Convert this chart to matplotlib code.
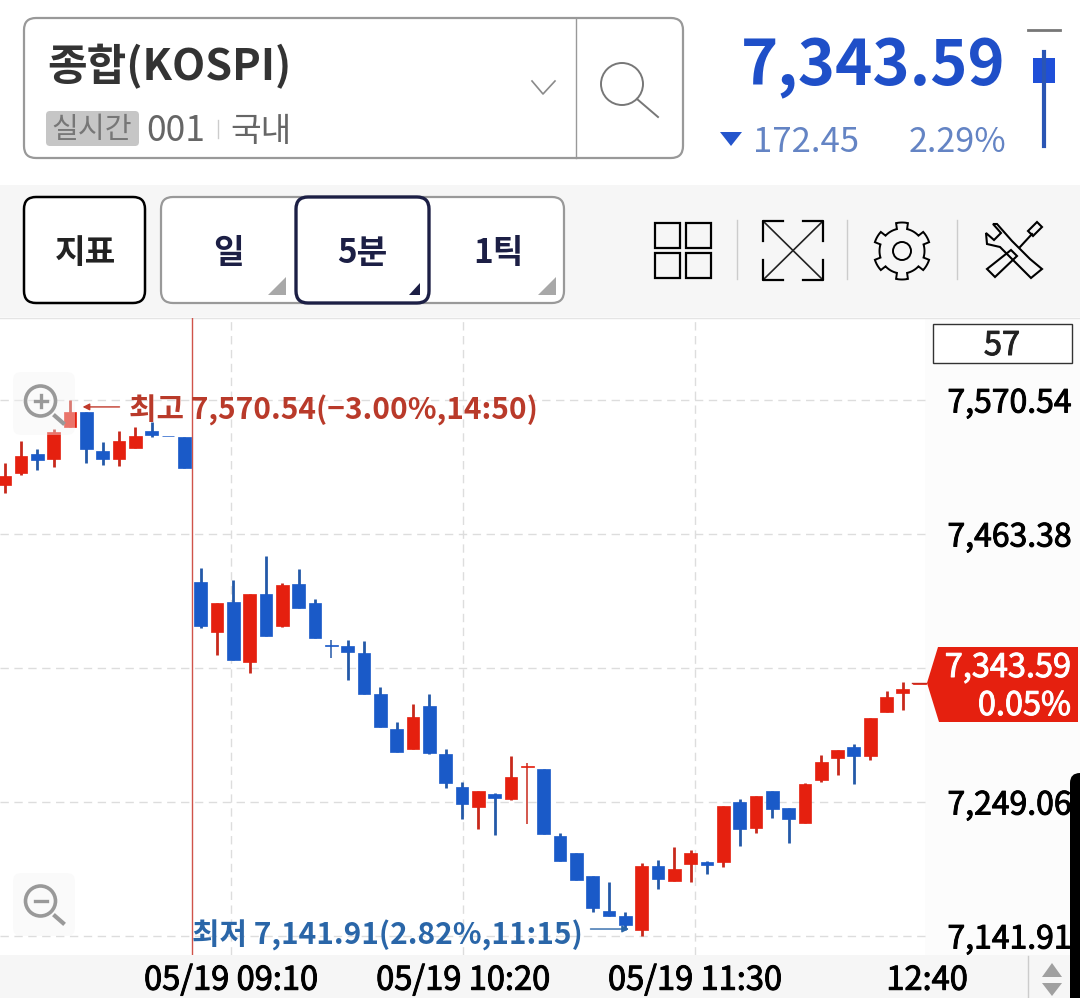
import numpy as np
import matplotlib
matplotlib.use('Agg')
import matplotlib.pyplot as plt
import matplotlib.patheffects as pe
from matplotlib.patches import Rectangle, FancyBboxPatch, Polygon, Circle

plt.rcParams['font.family'] = ['Noto Sans CJK KR', 'DejaVu Sans']

# 5 minute candles
opens = [7502.6, 7511.9, 7527.3, 7523.3, 7548.7, 7561.1, 7529.7, 7523.1, 7531.9, 7545.7, 7541.7, 7541.1,
         7425.2, 7385.2, 7408.7, 7361.0, 7415.1, 7389.8, 7423.4, 7407.9, 7374.1, 7373.8, 7367.9, 7335.4,
         7307.2, 7291.4, 7325.6, 7287.6, 7261.2, 7245.0, 7255.4, 7251.2, 7277.1, 7275.4, 7221.8, 7208.2,
         7190.1, 7161.9, 7157.6, 7146.4, 7197.8, 7185.8, 7199.7, 7201.3, 7201.3, 7249.0, 7228.5, 7258.1,
         7244.5, 7232.2, 7266.6, 7284.0, 7292.8, 7286.0, 7321.2, 7336.4, 7343.5]
highs = [7519.9, 7537.7, 7531.1, 7547.1, 7570.5, 7561.1, 7536.7, 7545.7, 7549.1, 7553.1, 7541.7, 7541.1,
         7435.9, 7407.9, 7426.3, 7415.4, 7446.0, 7423.9, 7435.4, 7411.4, 7378.6, 7378.6, 7377.5, 7340.7,
         7313.0, 7327.6, 7335.1, 7291.4, 7264.8, 7257.8, 7256.0, 7285.6, 7280.0, 7275.4, 7224.0, 7208.2,
         7190.1, 7185.0, 7160.8, 7200.0, 7202.6, 7213.3, 7210.4, 7201.8, 7245.8, 7251.7, 7253.8, 7258.1,
         7244.5, 7264.0, 7286.4, 7290.6, 7295.2, 7316.4, 7337.8, 7344.7, 7343.6]
lows = [7495.9, 7510.3, 7514.5, 7517.2, 7548.7, 7520.4, 7518.5, 7518.0, 7531.9, 7541.1, 7541.6, 7515.9,
        7387.9, 7366.3, 7362.6, 7352.4, 7381.8, 7388.7, 7404.4, 7379.9, 7364.4, 7346.6, 7335.4, 7309.2,
        7289.2, 7291.4, 7287.2, 7260.5, 7235.7, 7227.7, 7222.6, 7250.6, 7231.4, 7223.7, 7201.8, 7186.4,
        7161.3, 7157.6, 7146.7, 7141.9, 7179.7, 7185.8, 7184.8, 7191.2, 7197.3, 7214.1, 7224.0, 7236.5,
        7216.5, 7232.2, 7265.3, 7270.6, 7263.7, 7282.4, 7321.2, 7322.6, 7343.5]
closes = [7509.8, 7525.5, 7522.5, 7544.7, 7561.1, 7531.3, 7523.3, 7537.7, 7541.7, 7542.7, 7541.6, 7515.9,
          7390.0, 7407.9, 7362.6, 7415.4, 7381.8, 7422.8, 7404.4, 7379.9, 7374.0, 7369.0, 7335.4, 7309.2,
          7289.2, 7316.8, 7288.0, 7264.5, 7247.4, 7257.8, 7252.2, 7268.8, 7277.2, 7223.7, 7201.8, 7186.4,
          7164.5, 7157.6, 7150.4, 7197.8, 7187.4, 7195.4, 7208.0, 7198.6, 7245.8, 7227.2, 7253.8, 7243.4,
          7235.4, 7263.4, 7281.2, 7290.6, 7286.0, 7316.4, 7332.7, 7339.2, 7343.6]

price_ticks = [7141.91, 7249.06, 7356.22, 7463.38, 7570.54]
price_labels = ['7,141.91', '7,249.06', '', '7,463.38', '7,570.54']
time_ticks = [13.86, 28.07, 42.27, 56.48]
time_labels = ['05/19 09:10', '05/19 10:20', '05/19 11:30', '12:40']
day_break = 11.47

RED = '#e5200f'
BLUE = '#1a5ac8'
RED_WICK = '#c8291c'
BLUE_WICK = '#2459a8'
NAVY = '#1c1f45'
GREY = '#999999'

fig = plt.figure(figsize=(10.8, 9.98), dpi=100, facecolor='white')


def pixel_axes(z):
    a = fig.add_axes([0, 0, 1, 1], zorder=z)
    a.set_xlim(0, 1080)
    a.set_ylim(998, 0)
    a.axis('off')
    a.patch.set_alpha(0)
    return a


def rbox(a, x0, y0, x1, y1, r=8, **kw):
    a.add_patch(FancyBboxPatch((x0 + r, y0 + r), x1 - x0 - 2 * r, y1 - y0 - 2 * r,
                               boxstyle='round,pad=%d,rounding_size=%d' % (r, r), **kw))


def medium(t, color):
    # the font has no medium weight here, thicken the regular one a little
    t.set_path_effects([pe.withStroke(linewidth=0.7, foreground=color)])


# background bands
bg = pixel_axes(0)
bg.add_patch(Rectangle((0, 185), 1080, 132, fc='#f6f6f6', ec='none'))
bg.add_patch(Rectangle((925, 318), 155, 637, fc='#fcfcfc', ec='none'))
bg.add_patch(Rectangle((0, 955), 1080, 43, fc='#f6f6f6', ec='none'))
bg.plot([0, 1080], [317.5, 317.5], color='#e4e4e4', lw=1)

# search box
rbox(bg, 24, 18, 683, 158, r=12, fc='white', ec=GREY, lw=1.6)
bg.plot([576, 576], [18, 158], color=GREY, lw=1)
bg.plot([532, 543, 555], [81, 94, 81], color='#8a8a8a', lw=1.2)
bg.add_patch(Circle((622, 84), 21, fc='none', ec='#777777', lw=1.4))
bg.plot([637, 658], [99, 117], color='#777777', lw=1.4)
bg.text(47, 67, '종합(KOSPI)', fontsize=31, fontweight='bold', color='#333333', va='center')
rbox(bg, 46, 111, 139, 146, r=4, fc='#c6c6c6', ec='none')
bg.text(92, 130, '실시간', fontsize=21, color='#777777', va='center', ha='center')
bg.text(146, 131, '001', fontsize=25.5, color='#666666', va='center')
bg.plot([218, 218], [120, 138], color='#cccccc', lw=1)
bg.text(230, 131, '국내', fontsize=24, color='#666666', va='center')

# current price block
bg.text(1006, 67, '7,343.59', fontsize=45.5, fontweight='bold', color='#1f4fc8', va='center', ha='right')
bg.add_patch(Polygon([(720, 132), (742, 132), (731, 146)], fc='#2455cc', ec='none'))
bg.text(859, 142, '172.45', fontsize=25, color='#6484c4', va='center', ha='right')
bg.text(1006, 142, '2.29%', fontsize=24.5, color='#6484c4', va='center', ha='right')
bg.plot([1028, 1060], [30, 30], color='#777777', lw=2)
bg.plot([1044, 1044], [52, 146], color='#2a55b4', lw=3)
bg.add_patch(Rectangle((1033, 58), 22, 25, fc='#1f4fd8', ec='none'))

# toolbar buttons
rbox(bg, 24, 197, 145, 303, r=12, fc='white', ec='black', lw=1.8)
bg.text(85, 253, '지표', fontsize=24, fontweight='bold', color='#222222', ha='center', va='center')
rbox(bg, 161, 197, 564, 303, r=12, fc='white', ec=GREY, lw=1.6)
rbox(bg, 296, 197, 429, 303, r=12, fc='white', ec=NAVY, lw=2.4)
for x, s in zip([228, 362, 498], ['일', '5분', '1틱']):
    bg.text(x, 253, s, fontsize=24, fontweight='bold', color=NAVY, ha='center', va='center')
bg.add_patch(Polygon([(268, 295), (286, 277), (286, 295)], fc='#a8a8a8', ec='none'))
bg.add_patch(Polygon([(538, 295), (556, 277), (556, 295)], fc='#a8a8a8', ec='none'))
bg.add_patch(Polygon([(409, 295), (420, 283), (420, 295)], fc=NAVY, ec='none'))

# toolbar icons
for x in (655, 686):
    for y in (223, 253):
        bg.add_patch(Rectangle((x, y), 25, 25, fc='none', ec='black', lw=1.6))
for x in (737, 847, 957):
    bg.plot([x, x], [220, 279], color='#cccccc', lw=1)
bg.plot([763, 823], [221, 280], color='#222222', lw=1.2)
bg.plot([763, 823], [280, 221], color='#222222', lw=1.2)
bg.plot([783, 763, 763], [221, 221, 241], color='black', lw=1.6)
bg.plot([803, 823, 823], [221, 221, 241], color='black', lw=1.6)
bg.plot([783, 763, 763], [280, 280, 260], color='black', lw=1.6)
bg.plot([803, 823, 823], [280, 280, 260], color='black', lw=1.6)

# gear
ang = np.radians(np.arange(0, 360, 1))
tooth = np.abs(((np.degrees(ang) - 90) % 60) - 30)
rad = np.where(tooth > 17, 28.5, 22.5)
bg.add_patch(Polygon(np.c_[902 + rad * np.cos(ang), 251 + rad * np.sin(ang)], fc='none', ec='black', lw=1.4))
bg.add_patch(Circle((902, 251), 9, fc='none', ec='black', lw=1.4))

# wrench and screwdriver
wrench = [(997, 224), (1012, 241), (1030, 259), (1042, 269), (1031, 278), (1000, 247), (987, 244),
          (986, 233), (994, 240), (1001, 233), (993, 224)]
bg.add_patch(Polygon(wrench, fc='none', ec='black', lw=1.5))
bg.add_patch(Polygon([(987, 269), (1011, 250), (1017, 256), (995, 277)], fc='none', ec='black', lw=1.5))
bg.plot([1020, 1032], [247, 234], color='black', lw=1.5)
bg.add_patch(Polygon([(1028, 231), (1037, 222), (1042, 227), (1033, 236)], fc='none', ec='black', lw=1.5))

# price chart
ax = fig.add_axes([0, (998 - 955) / 998, 928 / 1080, (955 - 318) / 998], zorder=1)
ax.patch.set_alpha(0)
for s in ax.spines.values():
    s.set_visible(False)
ax.set_xlim(-0.288, 56.54)
ax.set_ylim(7126.72, 7636.11)

ax.set_yticks(price_ticks)
ax.set_yticklabels(price_labels)
ax.yaxis.tick_right()
ax.tick_params(axis='y', length=0, pad=14, labelsize=23, labelcolor='black')
ax.set_xticks(time_ticks)
ax.set_xticklabels(time_labels)
ax.tick_params(axis='x', length=0, pad=7, labelsize=23.5, labelcolor='black')
for t in ax.get_xticklabels() + ax.get_yticklabels():
    medium(t, 'black')
ax.grid(True, color='#dddddd', lw=1, linestyle=(0, (6, 4)))
ax.set_axisbelow(True)
ax.get_xgridlines()[3].set_visible(False)
ax.axvline(day_break, color='#d0534a', lw=1, zorder=1)

for i in range(len(opens)):
    up = closes[i] >= opens[i]
    body = abs(closes[i] - opens[i])
    ax.vlines(i, lows[i], highs[i], color=RED_WICK if up else BLUE_WICK, lw=1.1 if body < 0.5 else 2, zorder=2)
    ax.bar(i, max(body, 0.4), bottom=min(opens[i], closes[i]), width=0.78,
           color=RED if up else BLUE, edgecolor=RED if up else BLUE, lw=0.5, zorder=3)

ax.annotate('', xy=(4.6, 7565), xytext=(7.2, 7565),
            arrowprops=dict(arrowstyle='-|>', color='#c0392b', lw=1, mutation_scale=10))
ax.text(7.6, 7562, '최고 7,570.54(\u22123.00%,14:50)', fontsize=21.5, fontweight='bold', color='#b93a2a', va='center')
ax.annotate('', xy=(38.4, 7147.5), xytext=(35.7, 7147.5),
            arrowprops=dict(arrowstyle='-|>', color='#2a66a8', lw=1, mutation_scale=10))
ax.text(day_break, 7142.5, '최저 7,141.91(2.82%,11:15)', fontsize=21.5, fontweight='bold', color='#2a66a8', va='center')

# things that sit on top of the chart
over = pixel_axes(2)
rbox(over, 13, 372, 75, 435, r=8, fc='#f4f4f4', ec='none', alpha=0.4)
rbox(over, 13, 873, 75, 936, r=8, fc='#f4f4f4', ec='none', alpha=0.4)
for cy, plus in ((401, True), (901, False)):
    over.add_patch(Circle((40.5, cy), 15, fc='none', ec='#999999', lw=2.6))
    over.plot([55, 63], [cy + 15, cy + 22], color='#999999', lw=3)
    over.plot([35, 47], [cy, cy], color='#999999', lw=2.4)
    if plus:
        over.plot([40.5, 40.5], [cy - 6, cy + 6], color='#999999', lw=2.4)

over.add_patch(Rectangle((933, 324), 139, 39, fc='white', ec='#333333', lw=1))
t = over.text(1002, 346, '57', fontsize=23.5, color='#222222', ha='center', va='center')
medium(t, '#222222')
over.plot([912, 926], [683, 683], color=RED_WICK, lw=1)
over.add_patch(Polygon([(927, 683), (938, 647), (1078, 647), (1078, 722), (939, 722)], fc=RED, ec='none'))
t = over.text(1071, 668, '7,343.59', fontsize=23.4, color='white', ha='right', va='center')
medium(t, 'white')
t = over.text(1071, 706, '0.05%', fontsize=23.4, color='white', ha='right', va='center')
medium(t, 'white')
rbox(over, 1070, 773, 1100, 1010, r=10, fc='black', ec='none')
over.plot([1028, 1028], [956, 998], color='#cccccc', lw=1)
over.add_patch(Polygon([(1042, 977), (1062, 977), (1052, 963)], fc='#a0a0a0', ec='none'))
over.add_patch(Polygon([(1042, 983), (1062, 983), (1052, 996)], fc='#a0a0a0', ec='none'))

fig.savefig('out.png', dpi=100)
